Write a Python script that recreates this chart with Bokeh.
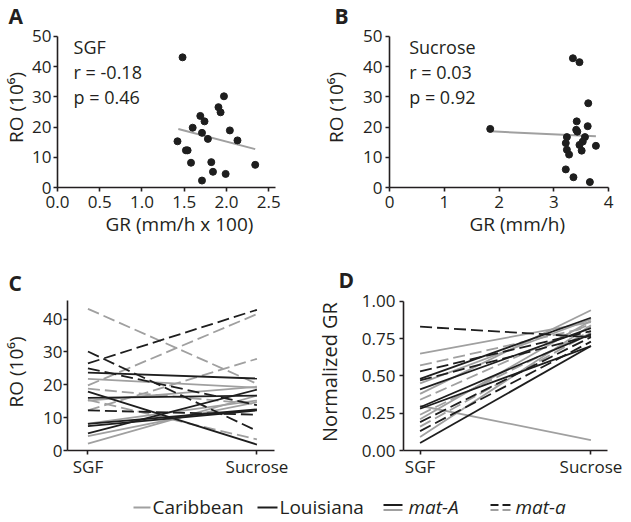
from bokeh.plotting import figure
from bokeh.layouts import column, row
from bokeh.models import (Range1d, FixedTicker, ColumnDataSource, PrintfTickFormatter,
                          Title)
from bokeh.core.properties import value
from bokeh.embed import file_html
from bokeh.resources import INLINE

FONT = "Open Sans"
INK = "#231f20"
BLACK = "#1e1e1e"
GREY = "#a0a0a0"

# ---------------- data ----------------
# Panel A: growth rate on SGF vs reproductive output
a_gr = [1.48, 1.42, 1.52, 1.54, 1.58, 1.60, 1.69, 1.71, 1.74, 1.78, 1.71, 1.82,
        1.84, 1.905, 1.93, 1.97, 2.04, 1.99, 2.13, 2.34]
a_ro = [43.1, 15.3, 12.3, 12.3, 8.2, 19.8, 23.7, 18.1, 21.9, 16.1, 2.3, 8.4,
        5.2, 26.6, 24.9, 30.2, 18.9, 4.5, 15.6, 7.5]
a_fit_x = [1.43, 2.34]
a_fit_y = [19.4, 12.7]
a_stats = ["SGF", "r = -0.18", "p = 0.46"]

# Panel B: growth rate on sucrose vs reproductive output
b_gr = [1.84, 3.35, 3.47, 3.63, 3.42, 3.62, 3.41, 3.43, 3.24, 3.57, 3.53, 3.22,
        3.47, 3.77, 3.24, 3.28, 3.51, 3.22, 3.36, 3.66]
b_ro = [19.4, 42.8, 41.5, 27.9, 21.9, 20.3, 19.1, 18.5, 16.7, 16.7, 15.2, 14.7,
        14.1, 13.8, 12.5, 10.9, 12.2, 6.0, 3.4, 1.8]
b_fit_x = [1.84, 3.77]
b_fit_y = [18.6, 17.0]
b_stats = ["Sucrose", "r = 0.03", "p = 0.92"]

conditions = ["SGF", "Sucrose"]

# Panel C: RO per strain on SGF and sucrose
c_sgf = [43.1, 26.5, 19.8, 30.1, 12.2, 23.7, 25.0, 21.8, 17.9, 16.0, 15.2, 18.8,
         12.2, 8.1, 7.4, 5.2, 8.2, 4.4, 2.1, 15.4]
c_suc = [20.3, 42.8, 41.5, 6.0, 27.9, 21.9, 13.8, 19.1, 1.8, 16.7, 19.4, 14.1,
         10.9, 12.5, 12.2, 18.5, 15.2, 14.7, 16.7, 3.4]
c_origin = ["Caribbean", "Louisiana", "Caribbean", "Louisiana", "Caribbean", "Louisiana",
            "Louisiana", "Caribbean", "Louisiana", "Louisiana", "Caribbean", "Caribbean",
            "Louisiana", "Louisiana", "Louisiana", "Louisiana", "Caribbean", "Caribbean",
            "Caribbean", "Caribbean"]
c_mating = ["mat-a", "mat-a", "mat-a", "mat-a", "mat-a", "mat-A", "mat-a", "mat-A",
            "mat-A", "mat-A", "mat-A", "mat-a", "mat-a", "mat-A", "mat-A", "mat-A",
            "mat-A", "mat-A", "mat-A", "mat-a"]

# Panel D: normalized growth rate per strain
d_sgf = [0.83, 0.65, 0.57, 0.53, 0.48, 0.47, 0.45, 0.41, 0.38, 0.34, 0.30, 0.29,
         0.28, 0.24, 0.19, 0.16, 0.13, 0.09, 0.05, 0.21]
d_suc = [0.76, 0.86, 0.83, 0.80, 0.89, 0.77, 0.88, 0.82, 0.94, 0.85, 0.07, 0.78,
         0.70, 0.80, 0.76, 0.79, 0.73, 0.84, 0.70, 0.87]
d_origin = ["Louisiana", "Caribbean", "Caribbean", "Louisiana", "Louisiana", "Louisiana",
            "Caribbean", "Louisiana", "Caribbean", "Caribbean", "Caribbean", "Louisiana",
            "Louisiana", "Caribbean", "Louisiana", "Caribbean", "Louisiana", "Caribbean",
            "Louisiana", "Caribbean"]
d_mating = ["mat-a", "mat-A", "mat-a", "mat-a", "mat-A", "mat-a", "mat-A", "mat-A",
            "mat-A", "mat-a", "mat-A", "mat-A", "mat-A", "mat-a", "mat-a", "mat-a",
            "mat-a", "mat-A", "mat-A", "mat-A"]

panel_letters = ["A", "B", "C", "D"]
ro_title = "RO (10\u2076)"
gr_titles = ["GR (mm/h x 100)", "GR (mm/h)"]
norm_title = "Normalized GR"
legend_labels = ["Caribbean", "Louisiana", "mat-A", "mat-a"]

COLOR = {"Caribbean": GREY, "Louisiana": BLACK}
DASH = {"mat-A": "solid", "mat-a": "12 5"}


def base_fig(w, h, xr, yr, ybounds, bl, br, bt, bb, xs, ys, ylab, ylab_size, ylab_standoff):
    p = figure(width=w, height=h, x_range=xr, y_range=yr, output_backend="svg",
               toolbar_location=None, tools="", title=None,
               min_border_left=bl, min_border_right=br,
               min_border_top=bt, min_border_bottom=bb)
    p.grid.visible = False
    p.outline_line_color = None
    for ax in p.axis:
        ax.axis_line_width = 1.6
        ax.axis_line_color = INK
        ax.major_tick_line_width = 1.6
        ax.major_tick_line_color = INK
        ax.major_tick_in = 0
        ax.major_tick_out = 4
        ax.minor_tick_line_color = None
        ax.major_label_text_font = FONT
        ax.major_label_text_font_size = "17px"
        ax.major_label_text_color = INK
    p.xaxis.major_label_standoff = xs
    p.yaxis.major_label_standoff = ys
    p.yaxis.bounds = ybounds
    p.yaxis.axis_label = ylab
    p.yaxis.axis_label_text_font = FONT
    p.yaxis.axis_label_text_font_size = ylab_size
    p.yaxis.axis_label_text_font_style = "normal"
    p.yaxis.axis_label_text_color = INK
    p.yaxis.axis_label_standoff = ylab_standoff
    return p


def letter(p, text, offset, standoff):
    p.add_layout(Title(text=text, align="left", offset=offset, standoff=standoff,
                       vertical_align="bottom", text_font=FONT, text_font_size="21px",
                       text_font_style="bold", text_color=INK), "above")


def x_title(p, text, offset, standoff):
    p.add_layout(Title(text=text, align="left", offset=offset, standoff=standoff,
                       vertical_align="top", text_font=FONT, text_font_size="19px",
                       text_font_style="normal", text_color=INK), "below")


def strip(w, h):
    s = figure(width=w, height=h, x_range=Range1d(0, w), y_range=Range1d(0, h),
               output_backend="svg", toolbar_location=None, tools="", title=None,
               x_axis_location=None, y_axis_location=None,
               min_border_left=0, min_border_right=0, min_border_top=0,
               min_border_bottom=0)
    s.grid.visible = False
    s.outline_line_color = None
    return s


def put_text(p, xs, ys, texts, size, align="left", style="normal"):
    src = ColumnDataSource(dict(x=xs, y=ys, t=texts))
    p.text(x="x", y="y", text="t", source=src, text_font=value(FONT),
           text_font_size=size, text_color=INK, text_baseline="alphabetic",
           text_align=align, text_font_style=style)


# ---------------- Row 1: panels A and B ----------------
ROW1_H = 243
pa = base_fig(320, ROW1_H, Range1d(0, 2.58), Range1d(0, 52.98), (0, 50),
              52, 45, 27, 56, 4, 2, ro_title, "19px", 0)
pa.xaxis.ticker = FixedTicker(ticks=[0, 0.5, 1.0, 1.5, 2.0, 2.5])
pa.xaxis.formatter = PrintfTickFormatter(format="%.1f")
pa.yaxis.ticker = FixedTicker(ticks=[0, 10, 20, 30, 40, 50])
pa.line(a_fit_x, a_fit_y, line_color=GREY, line_width=2)
pa.scatter(a_gr, a_ro, size=7, fill_color=BLACK, line_color=BLACK)
put_text(pa, [0.19] * 3, [46.5, 38.2, 29.9], a_stats, "18px")
letter(pa, panel_letters[0], -49, -4)
x_title(pa, gr_titles[0], 48, 0)

pb = base_fig(311, ROW1_H, Range1d(0, 4.0), Range1d(0, 52.98), (0, 50),
              67, 23, 27, 56, 4, 3, ro_title, "19px", 11)
pb.xaxis.ticker = FixedTicker(ticks=[0, 1, 2, 3, 4])
pb.yaxis.ticker = FixedTicker(ticks=[0, 10, 20, 30, 40, 50])
pb.line(b_fit_x, b_fit_y, line_color=GREY, line_width=2)
pb.scatter(b_gr, b_ro, size=7, fill_color=BLACK, line_color=BLACK)
put_text(pb, [0.36] * 3, [46.5, 38.2, 29.9], b_stats, "18px")
letter(pb, panel_letters[1], -55, -4)
x_title(pb, gr_titles[1], 80, 0)


def paired_lines(p, sgf, suc, origin, mating):
    x0 = conditions.index("SGF")
    x1 = conditions.index("Sucrose")
    for org in ["Caribbean", "Louisiana"]:
        for mt in ["mat-A", "mat-a"]:
            idx = [i for i in range(len(sgf)) if origin[i] == org and mating[i] == mt]
            if not idx:
                continue
            src = ColumnDataSource(dict(
                x0=[x0] * len(idx), x1=[x1] * len(idx),
                y0=[sgf[i] for i in idx], y1=[suc[i] for i in idx]))
            p.segment(x0="x0", y0="y0", x1="x1", y1="y1", source=src,
                      line_color=COLOR[org], line_width=1.8, line_dash=DASH[mt])


cond_ticks = list(range(len(conditions)))
cond_over = {i: c for i, c in enumerate(conditions)}

# ---------------- Row 2: panels C and D ----------------
ROW2_H = 237
pc = base_fig(312, ROW2_H, Range1d(-0.121, 1.104), Range1d(0, 47.76), (0, 45.6),
              62, 38, 50, 27, 0, 1, ro_title, "19px", 11)
pc.xaxis.ticker = FixedTicker(ticks=cond_ticks)
pc.xaxis.major_label_overrides = cond_over
pc.yaxis.ticker = FixedTicker(ticks=[0, 10, 20, 30, 40])
paired_lines(pc, c_sgf, c_suc, c_origin, c_mating)
letter(pc, panel_letters[2], -59, -6)

pd_ = base_fig(319, ROW2_H, Range1d(-0.097, 1.097), Range1d(0, 1.0526), (0, 1.0),
               85, 24, 50, 27, 0, 4, norm_title, "20px", 16)
pd_.xaxis.ticker = FixedTicker(ticks=cond_ticks)
pd_.xaxis.major_label_overrides = cond_over
pd_.yaxis.ticker = FixedTicker(ticks=[0, 0.25, 0.5, 0.75, 1.0])
pd_.yaxis.formatter = PrintfTickFormatter(format="%.2f")
paired_lines(pd_, d_sgf, d_suc, d_origin, d_mating)
letter(pd_, panel_letters[3], -65, 0)

# ---------------- Legend strip ----------------
pl = strip(631, 41)
pl.segment(x0=[133], y0=[14], x1=[150], y1=[14], line_color=GREY, line_width=2)
pl.segment(x0=[257], y0=[14], x1=[277], y1=[14], line_color=BLACK, line_width=2)
pl.segment(x0=[383, 383], y0=[16.5, 11.5], x1=[402, 402], y1=[16.5, 11.5],
           line_color=[BLACK, GREY], line_width=2)
pl.segment(x0=[490, 490], y0=[16.5, 11.5], x1=[510, 510], y1=[16.5, 11.5],
           line_color=[BLACK, GREY], line_width=2, line_dash="8 4")
put_text(pl, [152, 279], [14.2, 14.2], legend_labels[:2], "19px")
put_text(pl, [408, 515], [14.2, 14.2], legend_labels[2:], "19px", style="italic")

layout = column(row(pa, pb), row(pc, pd_), pl)
open("out.html", "w").write(file_html(layout, INLINE))
